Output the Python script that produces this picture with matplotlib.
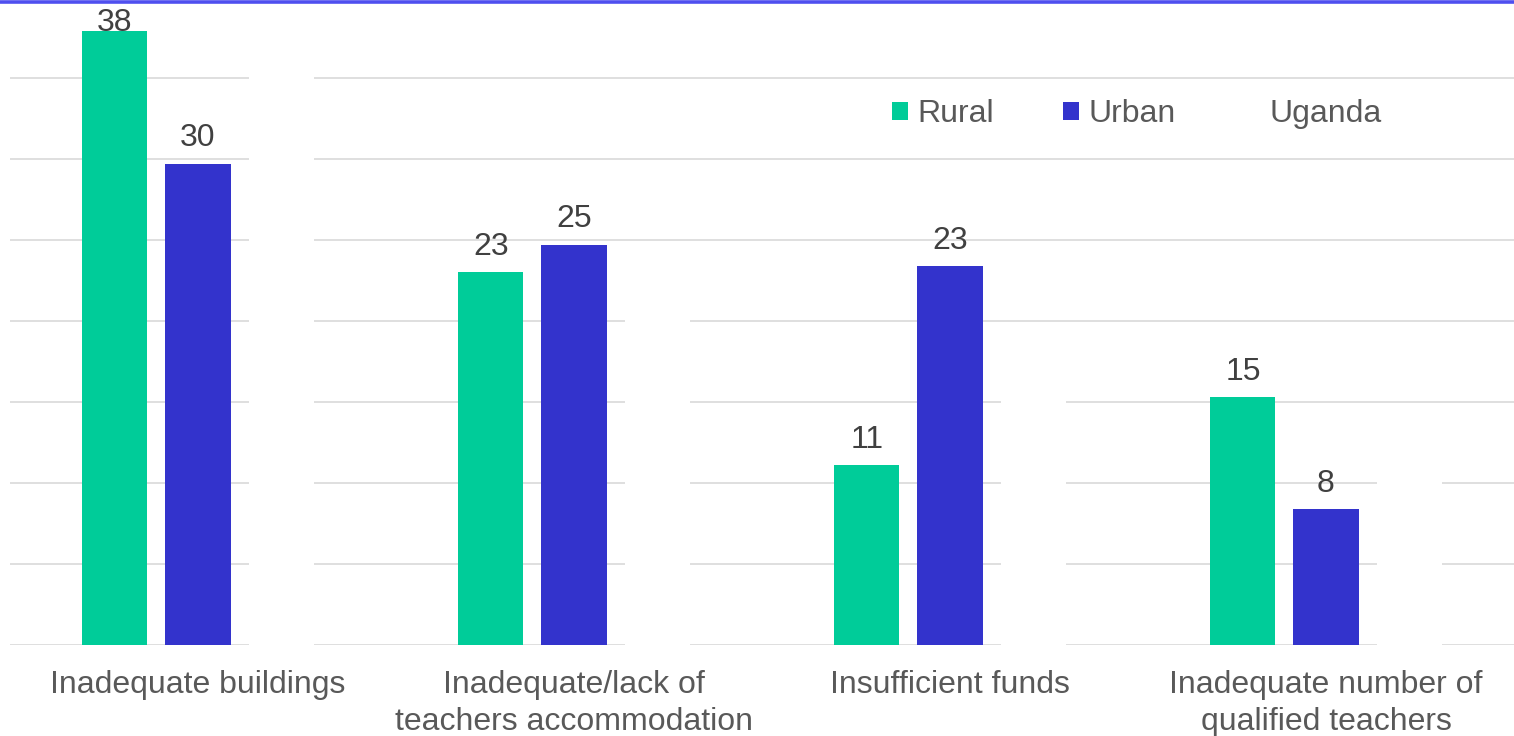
import matplotlib.pyplot as plt
import numpy as np
from matplotlib.lines import Line2D

plt.rcParams['font.family'] = ['Liberation Sans', 'DejaVu Sans']

categories = ["Inadequate buildings", "Inadequate/lack of\nteachers accommodation",
              "Insufficient funds", "Inadequate number of\nqualified teachers"]
rural = [37.9, 23.0, 11.1, 15.3]
urban = [29.7, 24.7, 23.4, 8.4]
uganda = [36, 24, 17, 12]   # drawn in white in the original, so only gaps in the grid show

series_names = ["Rural", "Urban", "Uganda"]
series_colors = ["#00CC99", "#3333CC", "#FFFFFF"]

fig = plt.figure(figsize=(15.14, 7.36), dpi=100)
ax = fig.add_axes([10 / 1514, 91 / 736, 1504 / 1514, 648 / 736])

x = np.arange(len(categories))
width = 0.173
step = 0.221

ax.set_axisbelow(True)
ax.yaxis.grid(True, color="#D9D9D9", linewidth=1.2)
ax.set_ylim(0, 40)
ax.set_yticks(np.arange(0, 41, 5))
ax.set_xlim(-0.5, len(categories) - 0.5)

for i, (vals, name, col) in enumerate(zip([rural, urban, uganda], series_names, series_colors)):
    pos = x + (i - 1) * step
    ax.bar(pos, vals, width, color=col, label=name, linewidth=0, zorder=2)
    if name == "Uganda":
        continue
    for px, v in zip(pos, vals):
        # labels that would leave the plot area are pulled down onto the bar
        off = 0 if v > 36 else 12.5
        ax.annotate(f"{v:.0f}", (px, v), xytext=(0, off), textcoords="offset points",
                    ha="center", va="baseline", fontsize=23, color="#404040", zorder=3)

ax.set_xticks(x)
ax.set_xticklabels(categories, fontsize=23, color="#595959", linespacing=1.3)
ax.tick_params(axis="x", length=0, pad=18)
ax.tick_params(axis="y", length=0, labelleft=False)
for s in ax.spines.values():
    s.set_visible(False)

leg = ax.legend(loc="center", bbox_to_anchor=(1137 / 1514, 1 - 114 / 736),
                bbox_transform=fig.transFigure, ncol=3, frameon=False, fontsize=23,
                handlelength=0.5, handleheight=0.5, handletextpad=0.3,
                columnspacing=2.15)
for t in leg.get_texts():
    t.set_color("#595959")

# blue rule along the top edge of the slide
fig.add_artist(Line2D([0, 1], [1 - 1.5 / 736, 1 - 1.5 / 736], transform=fig.transFigure,
                      color="#4F4FEF", linewidth=2.6))

fig.savefig("out.png", dpi=100)
